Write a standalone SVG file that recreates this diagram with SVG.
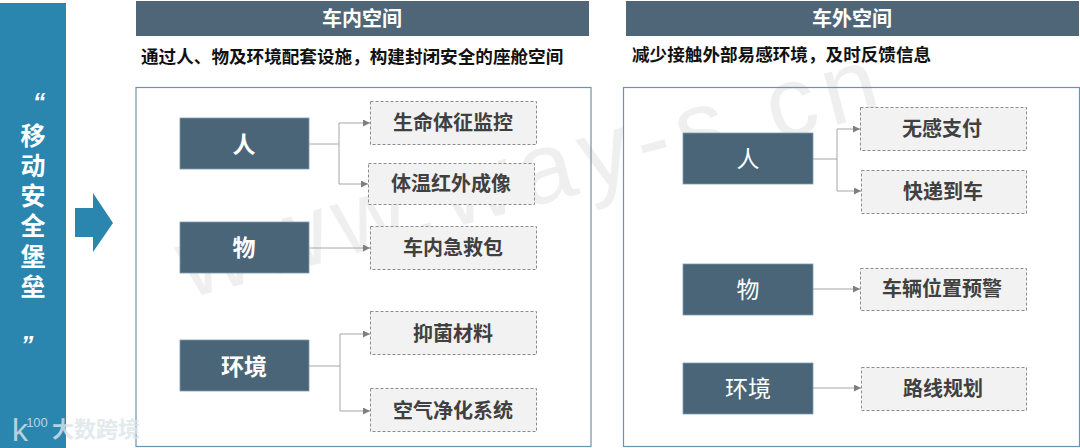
<svg xmlns="http://www.w3.org/2000/svg" width="1080" height="448" viewBox="0 0 1080 448">
<defs>
<style>
text{font-family:"Liberation Sans","Noto Sans CJK SC",sans-serif;text-anchor:middle}
.hd{fill:#4f6678}
.hdt{fill:#fff;font-size:20px;font-weight:700}
.sub{fill:#111;font-size:17.600px;font-weight:700;text-anchor:start}
.panel{fill:#fff;stroke:#6f93a8;stroke-width:1.2}
.n{fill:#4a6578;stroke:#7d9db0;stroke-width:.8}
.nb{fill:#fff;font-size:23px;font-weight:700}
.nr{fill:#fff;font-size:23px;font-weight:400}
.d{fill:#f2f2f2;stroke:#8c8c8c;stroke-width:1;stroke-dasharray:3 2}
.dt{fill:#404040;font-size:20px;font-weight:700}
.c{fill:none;stroke:#a6a6a6;stroke-width:1;marker-end:url(#a)}
.c0{fill:none;stroke:#a6a6a6;stroke-width:1}
.side{fill:#fff;font-size:25px;font-weight:700}
.wm{fill:#8a8a8a;opacity:.13;font-size:100px;letter-spacing:8px}
</style>
<marker id="a" markerUnits="userSpaceOnUse" markerWidth="8" markerHeight="8" refX="7" refY="3.500" orient="auto"><path d="M0 0L7 3.500L0 7Z" fill="#7f7f7f"/></marker>
</defs>
<rect width="1080" height="448" fill="#fff"/>
<g id="side">
<rect x="0" y="3" width="66" height="445" fill="#2a86ae"/>
<text x="39" y="111" class="side" font-style="italic">“</text>
<text x="33" y="145" class="side">移</text>
<text x="33" y="175" class="side">动</text>
<text x="33" y="205" class="side">安</text>
<text x="33" y="235" class="side">全</text>
<text x="33" y="266" class="side">堡</text>
<text x="33" y="296" class="side">垒</text>
<text x="27" y="354" class="side" font-style="italic">”</text>
</g>
<path id="flow-arrow" d="M75 208H93V193L113 223L93 252V237H75Z" fill="#2a86ae"/>
<g id="head-in"><rect x="136" y="1" width="453" height="35" class="hd"/><text x="362" y="26" class="hdt">车内空间</text></g>
<g id="head-out"><rect x="626" y="1" width="453" height="35" class="hd"/><text x="852" y="26" class="hdt">车外空间</text></g>
<text x="141" y="63" class="sub">通过人、物及环境配套设施，构建封闭安全的座舱空间</text>
<text x="632" y="61" class="sub">减少接触外部易感环境，及时反馈信息</text>
<rect id="panel-in" x="136" y="87.500" width="455" height="359" class="panel"/>
<rect id="panel-out" x="623.500" y="87.500" width="456" height="359" class="panel"/>
<text x="535" y="205" class="wm" transform="rotate(-15 535 185)">www.way-s.cn</text>
<g id="connectors">
<path class="c0" d="M309 144H339M339 123V184M309 366H340M340 334V411M813 159H837M837 129V191"/>
<path class="c" d="M339 123H370"/><path class="c" d="M339 184H368"/>
<path class="c" d="M309 248L370 248"/>
<path class="c" d="M340 334H370"/><path class="c" d="M340 411H370"/>
<path class="c" d="M837 129H860"/><path class="c" d="M837 191H861"/>
<path class="c" d="M813 289H860"/><path class="c" d="M813 388H861"/>
</g>
<g id="n-ren"><rect x="180" y="118" width="129" height="51" class="n"/><text x="244" y="153" class="nb">人</text></g>
<g id="n-wu"><rect x="180" y="222" width="129" height="51" class="n"/><text x="244" y="256" class="nb">物</text></g>
<g id="n-env"><rect x="180" y="340" width="129" height="51" class="n"/><text x="244" y="375" class="nb">环境</text></g>
<g id="n-ren2"><rect x="683" y="133" width="130" height="51" class="n"/><text x="748" y="167" class="nr">人</text></g>
<g id="n-wu2"><rect x="683" y="264" width="130" height="51" class="n"/><text x="748" y="298" class="nr">物</text></g>
<g id="n-env2"><rect x="683" y="363" width="130" height="51" class="n"/><text x="748" y="397" class="nr">环境</text></g>
<g id="d1"><rect x="370.500" y="101.500" width="166" height="43" class="d"/><text x="453" y="130" class="dt">生命体征监控</text></g>
<g id="d2"><rect x="368.500" y="163.500" width="166" height="41" class="d"/><text x="451" y="191" class="dt">体温红外成像</text></g>
<g id="d3"><rect x="370.500" y="226.500" width="166" height="43" class="d"/><text x="453" y="255" class="dt">车内急救包</text></g>
<g id="d4"><rect x="370.500" y="311.500" width="166" height="43" class="d"/><text x="453" y="341" class="dt">抑菌材料</text></g>
<g id="d5"><rect x="370.500" y="388.500" width="166" height="43" class="d"/><text x="453" y="418" class="dt">空气净化系统</text></g>
<g id="d6"><rect x="860.500" y="107.500" width="166" height="43" class="d"/><text x="942" y="136" class="dt">无感支付</text></g>
<g id="d7"><rect x="861.500" y="170.500" width="165" height="43" class="d"/><text x="943" y="199" class="dt">快递到车</text></g>
<g id="d8"><rect x="860.500" y="268.500" width="166" height="42" class="d"/><text x="942" y="296" class="dt">车辆位置预警</text></g>
<g id="d9"><rect x="861.500" y="367.500" width="165" height="43" class="d"/><text x="943" y="396" class="dt">路线规划</text></g>
<g id="logo" fill="#dbe5ea" opacity=".8">
<text x="96" y="437" style="font-size:22px;font-weight:700">大数跨境</text>
<text x="20" y="441" style="font-size:32px">k</text>
<text x="37" y="427" style="font-size:13px">100</text>
</g>
</svg>
